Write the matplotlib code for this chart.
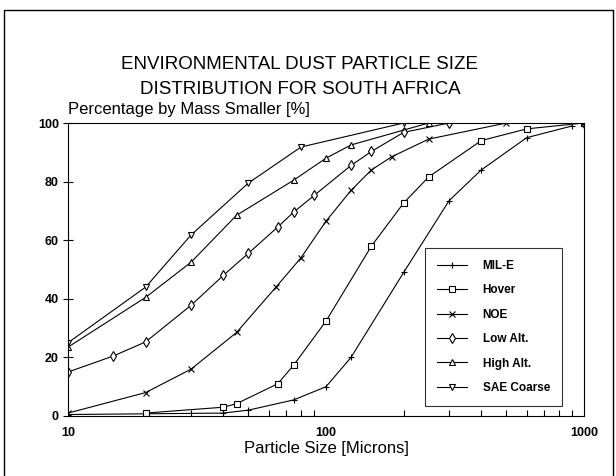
import matplotlib.pyplot as plt
from matplotlib.patches import Rectangle

plt.rcParams['font.family'] = ['Liberation Sans', 'DejaVu Sans']

# particle size [microns] and percentage by mass smaller [%]
mil_e_x = [10, 40, 50, 75, 100, 125, 200, 300, 400, 600, 900]
mil_e_y = [0.5, 1, 2, 5.5, 10, 20, 49, 73.5, 84, 95, 99]

hover_x = [20, 40, 45, 65, 75, 100, 150, 200, 250, 400, 600, 1000]
hover_y = [1, 3, 4.2, 11, 17.4, 32.4, 58, 72.7, 81.6, 94, 98, 100]

noe_x = [10, 20, 30, 45, 64, 80, 100, 125, 150, 180, 250, 500, 1000]
noe_y = [1, 8, 16, 28.5, 44, 54, 66.5, 77, 84, 88.5, 94.5, 100, 100]

low_x = [10, 15, 20, 30, 40, 50, 65, 75, 90, 125, 150, 200, 300, 1000]
low_y = [15, 20.5, 25.3, 37.8, 48, 55.5, 64.5, 69.6, 75.3, 85.5, 90.3, 96.8, 100, 100]

high_x = [10, 20, 30, 45, 75, 100, 125, 250, 1000]
high_y = [23.5, 40.5, 52.5, 68.5, 80.5, 88, 92.5, 100, 100]

sae_x = [10, 20, 30, 50, 80, 200, 1000]
sae_y = [25, 44, 61.8, 79.5, 91.8, 100, 100]

series = [
    ("MIL-E", mil_e_x, mil_e_y, "+"),
    ("Hover", hover_x, hover_y, "s"),
    ("NOE", noe_x, noe_y, "x"),
    ("Low Alt.", low_x, low_y, "d"),
    ("High Alt.", high_x, high_y, "^"),
    ("SAE Coarse", sae_x, sae_y, "v"),
]

fig = plt.figure(figsize=(6.16, 4.76), dpi=100)
ax = fig.add_axes([68 / 616, 60 / 476, 516 / 616, 293 / 476])

for name, xs, ys, m in series:
    ax.plot(xs, ys, color="black", linewidth=0.8, marker=m, markersize=5,
            markerfacecolor="white", markeredgecolor="black",
            markeredgewidth=0.8, label=name)

ax.set_xscale("log")
ax.set_xlim(10, 1000)
ax.set_ylim(0, 100)
ax.set_yticks([0, 20, 40, 60, 80, 100])
ax.set_xticks([10, 100, 1000])
ax.set_xticklabels(["10", "100", "1000"])
ax.tick_params(axis="y", direction="inout", length=7, width=0.8,
               labelsize=9, pad=3)
ax.tick_params(axis="x", which="major", direction="in", length=0,
               labelsize=9, pad=8)
ax.tick_params(axis="x", which="minor", direction="in", length=4, width=0.8)
for t in ax.get_xticklabels() + ax.get_yticklabels():
    t.set_fontweight("bold")
for s in ax.spines.values():
    s.set_linewidth(0.8)

ax.set_xlabel("Particle Size [Microns]", fontsize=12, labelpad=1)
ax.text(0.0, 1.02, "Percentage by Mass Smaller [%]", transform=ax.transAxes,
        fontsize=12, ha="left", va="bottom")

fig.text(0.487, 0.838, "ENVIRONMENTAL DUST PARTICLE SIZE\nDISTRIBUTION FOR SOUTH AFRICA",
         ha="center", va="center", fontsize=13.5, linespacing=1.6)

leg = ax.legend(loc="lower right", bbox_to_anchor=(0.957, 0.035),
                fontsize=8.5, frameon=True, fancybox=False,
                edgecolor="black", handlelength=2.6, labelspacing=1.05,
                borderpad=1.0, handletextpad=1.3, borderaxespad=0)
leg.get_frame().set_linewidth(0.8)
for t in leg.get_texts():
    t.set_fontweight("bold")

fig.patches.append(Rectangle((4 / 616, -0.02), 609 / 616, 1.02 - 10 / 476,
                             transform=fig.transFigure, fill=False,
                             edgecolor="black", linewidth=1.0))

fig.savefig("out.png", dpi=100)
